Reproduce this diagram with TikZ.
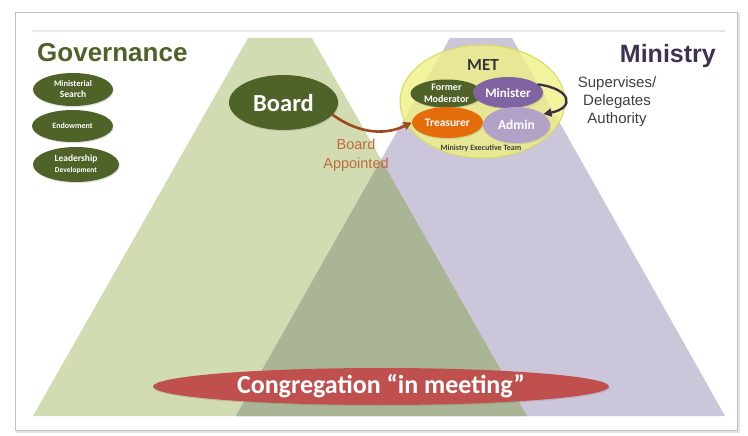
\documentclass[tikz,border=0pt]{standalone}
\usepackage{fontspec}
\setmainfont{Liberation Sans}
\newfontfamily\calfont{Carlito}
\usetikzlibrary{shapes.geometric,arrows.meta,shadows}
\definecolor{govfill}{HTML}{D2DCB3}
\definecolor{minfill}{HTML}{CCC6DB}
\definecolor{overfill}{HTML}{A9B595}
\definecolor{olive}{HTML}{4F6228}
\definecolor{mintext}{HTML}{3F3151}
\definecolor{metyellow}{HTML}{EEF085}
\definecolor{metedge}{HTML}{D6DB5F}
\definecolor{ministerc}{HTML}{8064A2}
\definecolor{treasc}{HTML}{E46C0A}
\definecolor{adminc}{HTML}{B3A2C7}
\definecolor{congc}{HTML}{C0504D}
\definecolor{brownarr}{HTML}{9C4A1A}
\definecolor{browntext}{HTML}{BF6B3A}
\definecolor{darkarr}{HTML}{3A2E45}
\definecolor{labgray}{HTML}{404040}
\tikzset{
  oval/.style={ellipse, inner sep=0pt, font=\calfont\bfseries, text=white, align=center,
    drop shadow={opacity=0.25, shadow xshift=0.8pt, shadow yshift=-1.2pt}},
  title/.style={font=\bfseries\fontsize{26}{30}\selectfont, inner sep=0pt},
  plainlab/.style={align=center, inner sep=0pt},
  conn/.style={line width=2.6pt, line cap=round}
}
\begin{document}
\begin{tikzpicture}[x=1pt,y=-1pt]
\useasboundingbox (0,0) rectangle (748,436);
% slide frame
\fill[white] (0,0) rectangle (748,436);
\fill[gray!22] (16,13) rectangle (740,433);
\fill[white] (15,12) rectangle (737,430);
\draw[gray!50, line width=0.9pt] (15,12) rectangle (737,430);
\draw[gray!18, line width=1.2pt] (32,31) -- (725,31);
% trapezoids
\fill[govfill] (33,416) -- (527,416) -- (312,38) -- (248,38) -- cycle;
\fill[minfill] (236,416) -- (725,416) -- (512,38) -- (450,38) -- cycle;
\begin{scope}
  \clip (33,416) -- (527,416) -- (312,38) -- (248,38) -- cycle;
  \fill[overfill] (236,416) -- (725,416) -- (512,38) -- (450,38) -- cycle;
\end{scope}
% titles
\node[title, text=olive, anchor=base west] (gov) at (37,62) {Governance};
\node[title, text=mintext, anchor=base east, font=\bfseries\fontsize{25}{30}\selectfont] (min) at (716,63) {Ministry};
% governance ovals
\node[oval, fill=olive, minimum width=80, minimum height=33] (search) at (73,89.5)
  {\fontsize{8.5}{10}\selectfont Ministerial\\[-1pt]\fontsize{9.5}{11}\selectfont Search};
\node[oval, fill=olive, minimum width=81, minimum height=32] (endow) at (72.5,126)
  {\fontsize{8}{10}\selectfont Endowment};
\node[oval, fill=olive, minimum width=86, minimum height=35] (lead) at (76,164.5)
  {\fontsize{9.5}{11}\selectfont Leadership\\[-1pt]\fontsize{7.5}{9}\selectfont Development};
% board
\node[oval, fill=olive, minimum width=109, minimum height=55, font=\calfont\bfseries\fontsize{24.5}{28}\selectfont] (board) at (283.5,102.5) {Board};
% MET
\node[ellipse, inner sep=0pt, minimum width=165, minimum height=113, fill=metyellow, fill opacity=0.8, draw=metedge, line width=1pt] (met) at (482.5,101.5) {};
\node[inner sep=0pt, text=labgray!85!black, font=\calfont\bfseries\fontsize{17}{20}\selectfont] (metlab) at (483,64.5) {MET};
\node[oval, fill=olive, minimum width=72, minimum height=28] (former) at (446.5,93.5)
  {\fontsize{10}{11.5}\selectfont Former\\Moderator};
\node[oval, fill=ministerc, minimum width=70, minimum height=31, font=\calfont\bfseries\fontsize{13}{15}\selectfont] (minister) at (508,92.5) {Minister};
\node[oval, fill=treasc, minimum width=71, minimum height=31, font=\calfont\bfseries\fontsize{11.5}{14}\selectfont] (treas) at (447.5,122.5) {Treasurer};
\node[oval, fill=adminc, minimum width=67, minimum height=36, font=\calfont\bfseries\fontsize{13.5}{16}\selectfont] (admin) at (516.5,125) {Admin};
\node[inner sep=0pt, text=labgray, font=\calfont\bfseries\fontsize{8}{10}\selectfont] (metteam) at (481,148) {Ministry Executive Team};
% congregation
\node[oval, fill=congc, minimum width=456, minimum height=37, font=\calfont\bfseries\fontsize{26}{30}\selectfont] (cong) at (381,386.5) {Congregation “in meeting”};
% connectors
\draw[conn, draw=brownarr, -{Triangle[length=8pt,width=8pt]}] (board.-14) .. controls (362,136) and (388,134) .. (treas.west);
\node[plainlab, text=browntext, font=\fontsize{14.5}{19}\selectfont] (balab) at (356,155.5) {Board\\Appointed};
\draw[conn, line width=2.3pt, draw=darkarr, -{Triangle[length=8pt,width=8pt]}] (minister.15) .. controls (572,89) and (575,108) .. (admin.22);
\node[plainlab, text=labgray, font=\fontsize{15}{18}\selectfont] (suplab) at (617,101.5) {Supervises/\\Delegates\\Authority};
\end{tikzpicture}
\end{document}
